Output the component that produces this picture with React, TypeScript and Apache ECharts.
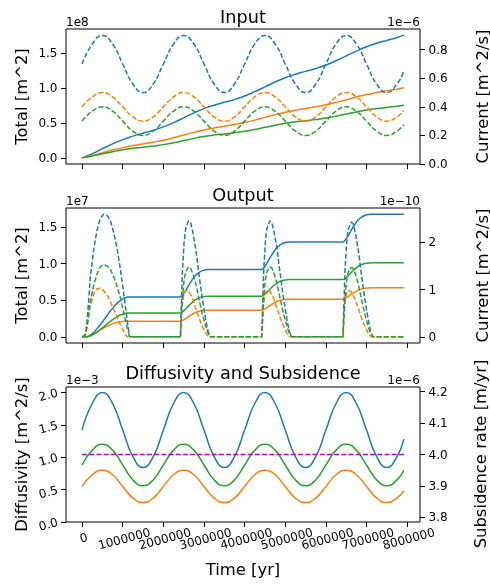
import React, { useEffect, useRef } from 'react';
import * as echarts from 'echarts';

const FONT = '"DejaVu Sans", "Liberation Sans", sans-serif';
const BLUE = '#1f77b4';
const ORANGE = '#ff7f0e';
const GREEN = '#2ca02c';
const PURPLE = '#bf00bf';

// ---------- shared x axis ----------
const xTicks = [0, 1000000, 2000000, 3000000, 4000000, 5000000, 6000000, 7000000, 8000000];
const xLabelsOdd = [1000000, 3000000, 5000000, 7000000];
const xLabelsEven = [2000000, 4000000, 6000000, 8000000];
const xLabelsZero = [0];
const X_MIN = -396000;
const X_MAX = 8316000;

// ---------- Input panel (time in yr) ----------
const tInput = [0, 250000, 500000, 750000, 1000000, 1250000, 1500000, 1750000, 2000000, 2250000, 2500000, 2750000, 3000000, 3250000, 3500000, 3750000, 4000000, 4250000, 4500000, 4750000, 5000000, 5250000, 5500000, 5750000, 6000000, 6250000, 6500000, 6750000, 7000000, 7250000, 7500000, 7750000, 7920000];
// Total [m^2], x1e8
const inTotalBlue = [0, 0.061, 0.131, 0.2, 0.261, 0.31, 0.352, 0.393, 0.442, 0.503, 0.572, 0.642, 0.703, 0.752, 0.793, 0.834, 0.884, 0.945, 1.014, 1.084, 1.145, 1.194, 1.235, 1.276, 1.325, 1.387, 1.456, 1.525, 1.587, 1.636, 1.677, 1.718, 1.752];
const inTotalOrange = [0, 0.035, 0.073, 0.112, 0.146, 0.175, 0.199, 0.224, 0.252, 0.287, 0.326, 0.364, 0.399, 0.427, 0.452, 0.476, 0.505, 0.539, 0.578, 0.617, 0.651, 0.68, 0.704, 0.729, 0.757, 0.792, 0.83, 0.869, 0.904, 0.932, 0.957, 0.981, 1.0];
const inTotalGreen = [0, 0.027, 0.058, 0.088, 0.115, 0.136, 0.152, 0.169, 0.189, 0.216, 0.247, 0.278, 0.304, 0.325, 0.342, 0.358, 0.379, 0.405, 0.436, 0.467, 0.494, 0.514, 0.531, 0.547, 0.568, 0.595, 0.626, 0.656, 0.683, 0.704, 0.72, 0.737, 0.75];
// Current [m^2/s], x1e-6
const inCurBlue = [0.7, 0.84, 0.9, 0.84, 0.7, 0.56, 0.5, 0.56, 0.7, 0.84, 0.9, 0.84, 0.7, 0.56, 0.5, 0.56, 0.7, 0.84, 0.9, 0.84, 0.7, 0.56, 0.5, 0.56, 0.7, 0.84, 0.9, 0.84, 0.7, 0.56, 0.5, 0.56, 0.65];
const inCurOrange = [0.4, 0.47, 0.5, 0.47, 0.4, 0.33, 0.3, 0.33, 0.4, 0.47, 0.5, 0.47, 0.4, 0.33, 0.3, 0.33, 0.4, 0.47, 0.5, 0.47, 0.4, 0.33, 0.3, 0.33, 0.4, 0.47, 0.5, 0.47, 0.4, 0.33, 0.3, 0.33, 0.375];
const inCurGreen = [0.3, 0.37, 0.4, 0.37, 0.3, 0.23, 0.2, 0.23, 0.3, 0.37, 0.4, 0.37, 0.3, 0.23, 0.2, 0.23, 0.3, 0.37, 0.4, 0.37, 0.3, 0.23, 0.2, 0.23, 0.3, 0.37, 0.4, 0.37, 0.3, 0.23, 0.2, 0.23, 0.275];

// ---------- Output panel ----------
const tOutput = [
  0, 80000, 120000, 160000, 200000, 290000, 370000, 450000, 530000, 620000, 700000, 780000, 860000, 940000, 1030000, 1110000, 1170000,
  2420000, 2440000, 2470000, 2510000, 2550000, 2620000, 2670000, 2730000, 2800000, 2880000, 2960000, 3040000, 3100000, 3160000,
  4420000, 4440000, 4470000, 4510000, 4550000, 4620000, 4670000, 4730000, 4800000, 4880000, 4960000, 5040000, 5100000, 5160000,
  6420000, 6440000, 6470000, 6510000, 6550000, 6620000, 6670000, 6730000, 6800000, 6880000, 6960000, 7040000, 7100000, 7160000,
  7920000,
];
// Total [m^2], x1e7
const outTotalBlue = [
  0, 0.0005, 0.003, 0.009, 0.021, 0.062, 0.111, 0.167, 0.227, 0.296, 0.355, 0.409, 0.457, 0.496, 0.527, 0.542, 0.545,
  0.545, 0.55, 0.565, 0.595, 0.63, 0.7, 0.745, 0.795, 0.845, 0.88, 0.903, 0.914, 0.917, 0.918,
  0.918, 0.923, 0.938, 0.969, 1.004, 1.075, 1.12, 1.171, 1.221, 1.257, 1.28, 1.291, 1.294, 1.295,
  1.295, 1.3, 1.315, 1.346, 1.381, 1.452, 1.498, 1.548, 1.599, 1.634, 1.658, 1.669, 1.672, 1.673,
  1.673,
];
const outTotalOrange = [
  0, 0.0005, 0.002, 0.007, 0.014, 0.038, 0.064, 0.091, 0.118, 0.146, 0.167, 0.185, 0.198, 0.207, 0.213, 0.214, 0.214,
  0.214, 0.216, 0.222, 0.234, 0.248, 0.276, 0.294, 0.315, 0.335, 0.349, 0.358, 0.362, 0.364, 0.364,
  0.364, 0.366, 0.372, 0.384, 0.398, 0.426, 0.444, 0.465, 0.485, 0.499, 0.508, 0.512, 0.514, 0.514,
  0.514, 0.516, 0.522, 0.535, 0.549, 0.578, 0.597, 0.617, 0.638, 0.652, 0.662, 0.666, 0.668, 0.668,
  0.668,
];
const outTotalGreen = [
  0, 0.0003, 0.002, 0.005, 0.012, 0.037, 0.066, 0.1, 0.136, 0.177, 0.213, 0.246, 0.274, 0.298, 0.316, 0.325, 0.327,
  0.327, 0.33, 0.339, 0.358, 0.379, 0.422, 0.449, 0.48, 0.51, 0.532, 0.546, 0.552, 0.554, 0.555,
  0.555, 0.558, 0.567, 0.585, 0.607, 0.649, 0.677, 0.707, 0.738, 0.759, 0.773, 0.78, 0.781, 0.782,
  0.782, 0.785, 0.794, 0.812, 0.834, 0.876, 0.904, 0.934, 0.965, 0.986, 1.0, 1.007, 1.008, 1.009,
  1.009,
];
// Current [m^2/s], x1e-10
const outCurBlue = [
  0, 0.05, 0.32, 0.74, 1.24, 1.88, 2.27, 2.52, 2.6, 2.57, 2.45, 2.2, 1.88, 1.45, 0.89, 0.35, 0,
  0, 0.6, 1.4, 2.0, 2.3, 2.46, 2.42, 2.2, 1.85, 1.3, 0.8, 0.38, 0.12, 0,
  0, 0.6, 1.4, 2.0, 2.3, 2.46, 2.42, 2.2, 1.85, 1.3, 0.8, 0.38, 0.12, 0,
  0, 0.6, 1.4, 1.98, 2.28, 2.43, 2.4, 2.18, 1.83, 1.28, 0.79, 0.37, 0.11, 0,
  0,
];
const outCurOrange = [
  0, 0.04, 0.22, 0.45, 0.66, 0.92, 1.02, 1.03, 0.98, 0.88, 0.74, 0.58, 0.42, 0.26, 0.1, 0, 0,
  0, 0.3, 0.7, 0.92, 0.99, 0.97, 0.9, 0.78, 0.6, 0.4, 0.22, 0.08, 0.01, 0,
  0, 0.3, 0.7, 0.92, 0.99, 0.97, 0.9, 0.78, 0.6, 0.4, 0.22, 0.08, 0.01, 0,
  0, 0.3, 0.7, 0.92, 0.98, 0.96, 0.89, 0.77, 0.6, 0.4, 0.22, 0.08, 0.01, 0,
  0,
];
const outCurGreen = [
  0, 0.03, 0.19, 0.44, 0.73, 1.11, 1.34, 1.49, 1.53, 1.5, 1.42, 1.27, 1.08, 0.83, 0.5, 0.19, 0,
  0, 0.36, 0.84, 1.2, 1.38, 1.48, 1.46, 1.33, 1.12, 0.79, 0.48, 0.23, 0.07, 0,
  0, 0.36, 0.84, 1.2, 1.38, 1.48, 1.46, 1.33, 1.12, 0.79, 0.48, 0.23, 0.07, 0,
  0, 0.36, 0.84, 1.19, 1.37, 1.47, 1.45, 1.32, 1.11, 0.78, 0.47, 0.22, 0.07, 0,
  0,
];

// ---------- Diffusivity and Subsidence panel ----------
// Diffusivity [m^2/s], x1e-3 (time = tInput)
const diffBlue = [1.42, 1.83, 2.0, 1.83, 1.42, 1.01, 0.84, 1.01, 1.42, 1.83, 2.0, 1.83, 1.42, 1.01, 0.84, 1.01, 1.42, 1.83, 2.0, 1.83, 1.42, 1.01, 0.84, 1.01, 1.42, 1.83, 2.0, 1.83, 1.42, 1.01, 0.84, 1.01, 1.28];
const diffOrange = [0.55, 0.73, 0.8, 0.73, 0.55, 0.37, 0.3, 0.37, 0.55, 0.73, 0.8, 0.73, 0.55, 0.37, 0.3, 0.37, 0.55, 0.73, 0.8, 0.73, 0.55, 0.37, 0.3, 0.37, 0.55, 0.73, 0.8, 0.73, 0.55, 0.37, 0.3, 0.37, 0.49];
const diffGreen = [0.88, 1.11, 1.2, 1.11, 0.88, 0.65, 0.56, 0.65, 0.88, 1.11, 1.2, 1.11, 0.88, 0.65, 0.56, 0.65, 0.88, 1.11, 1.2, 1.11, 0.88, 0.65, 0.56, 0.65, 0.88, 1.11, 1.2, 1.11, 0.88, 0.65, 0.56, 0.65, 0.8];
// Subsidence rate [m/yr], x1e-6
const tSubs = [0, 7920000];
const subsRate = [4.0, 4.0];

// ---------- tick values ----------
const inLeftTicks = [0, 0.5, 1.0, 1.5];
const inRightTicks = [0, 0.2, 0.4, 0.6, 0.8];
const outLeftTicks = [0, 0.5, 1.0, 1.5];
const outRightTicks = [0, 1, 2];
const diffTicks = [0, 0.5, 1.0, 1.5, 2.0];
const subsTicks = [3.8, 3.9, 4.0, 4.1, 4.2];

const pairs = (t: number[], v: number[]) => t.map((x, i) => [x, v[i]]);

const GRID_LEFT = 66;
const GRID_W = 354;
const GRID_H = 135;
const TOPS = [29, 208, 387];
const TICK_FS = 12;
const LABEL_FS = 16.4;
const TITLE_FS = 17.7;
const LW = 1.5;

export default function App() {
  const ref = useRef<HTMLDivElement>(null);
  useEffect(() => {
    if (!ref.current) return;
    const chart = echarts.init(ref.current, undefined, { renderer: 'svg' });

    const tickStyle = { show: true, inside: false, length: 5, lineStyle: { color: '#000', width: 1 } };
    const labelBase = { color: '#000', fontFamily: FONT, fontSize: TICK_FS, showMinLabel: true, showMaxLabel: true, hideOverlap: false };

    const xAxis = (gridIndex: number) => ({
      type: 'value', gridIndex, min: X_MIN, max: X_MAX, position: 'bottom',
      axisLine: { show: false, onZero: false },
      splitLine: { show: false },
      axisTick: { ...tickStyle, customValues: xTicks },
      axisLabel: { show: false },
    });

    // label-only x axes for the bottom panel (labels split so they never collide)
    const xLabelAxis = (values: number[], margin: number) => ({
      type: 'value', gridIndex: 2, min: X_MIN, max: X_MAX, position: 'bottom', offset: 0,
      axisLine: { show: false, onZero: false }, splitLine: { show: false }, axisTick: { show: false },
      axisLabel: { ...labelBase, customValues: values, rotate: 15, align: 'center', verticalAlign: 'top', margin, formatter: (v: number) => String(Math.round(v)) },
    });

    const yAxis = (gridIndex: number, position: string, min: number, max: number, ticks: number[], digits: number, rotate = 0) => ({
      type: 'value', gridIndex, position, min, max,
      axisLine: { show: false, onZero: false },
      splitLine: { show: false },
      axisTick: { ...tickStyle, customValues: ticks },
      axisLabel: { ...labelBase, customValues: ticks, margin: 8.5, rotate, formatter: (v: number) => v.toFixed(digits) },
    });

    const line = (xi: number, yi: number, t: number[], v: number[], color: string, dashed: boolean, smooth: boolean) => ({
      type: 'line', xAxisIndex: xi, yAxisIndex: yi, data: pairs(t, v),
      showSymbol: false, symbol: 'none', smooth, silent: true,
      lineStyle: { color, width: LW, type: dashed ? [5, 2.2] : 'solid' },
      itemStyle: { color },
    });

    const txt = (text: string, x: number, y: number, size: number, align: string, rot = 0) => ({
      type: 'text', x, y, rotation: rot, silent: true,
      style: { text, fill: '#000', font: `${size}px ${FONT}`, align, verticalAlign: 'middle' },
    });

    const cx = GRID_LEFT + GRID_W / 2;
    const right = GRID_LEFT + GRID_W;

    const option = {
      animation: false,
      grid: TOPS.map((top) => ({
        left: GRID_LEFT, top, width: GRID_W, height: GRID_H,
        show: true, borderColor: '#000', borderWidth: 1, backgroundColor: 'transparent',
      })),
      xAxis: [
        xAxis(0),
        xAxis(1),
        xAxis(2),
        xLabelAxis(xLabelsZero, 10),
        xLabelAxis(xLabelsOdd, 11),
        xLabelAxis(xLabelsEven, 11),
      ],
      yAxis: [
        yAxis(0, 'left', -0.0876, 1.84, inLeftTicks, 1),
        yAxis(0, 'right', 0, 0.945, inRightTicks, 1),
        yAxis(1, 'left', -0.0837, 1.757, outLeftTicks, 1),
        yAxis(1, 'right', -0.13, 2.73, outRightTicks, 0),
        yAxis(2, 'left', 0, 2.085, diffTicks, 1, 15),
        yAxis(2, 'right', 3.785, 4.215, subsTicks, 1),
      ],
      series: [
        line(0, 0, tInput, inTotalBlue, BLUE, false, true),
        line(0, 0, tInput, inTotalOrange, ORANGE, false, true),
        line(0, 0, tInput, inTotalGreen, GREEN, false, true),
        line(0, 1, tInput, inCurBlue, BLUE, true, true),
        line(0, 1, tInput, inCurOrange, ORANGE, true, true),
        line(0, 1, tInput, inCurGreen, GREEN, true, true),

        line(1, 2, tOutput, outTotalBlue, BLUE, false, false),
        line(1, 2, tOutput, outTotalOrange, ORANGE, false, false),
        line(1, 2, tOutput, outTotalGreen, GREEN, false, false),
        line(1, 3, tOutput, outCurBlue, BLUE, true, false),
        line(1, 3, tOutput, outCurOrange, ORANGE, true, false),
        line(1, 3, tOutput, outCurGreen, GREEN, true, false),

        line(2, 4, tInput, diffBlue, BLUE, false, true),
        line(2, 4, tInput, diffOrange, ORANGE, false, true),
        line(2, 4, tInput, diffGreen, GREEN, false, true),
        line(2, 5, tSubs, subsRate, PURPLE, true, false),
      ],
      graphic: [
        txt('Input', cx, 17, TITLE_FS, 'center'),
        txt('Output', cx, 195, TITLE_FS, 'center'),
        txt('Diffusivity and Subsidence', cx, 373, TITLE_FS, 'center'),

        txt('1e8', GRID_LEFT, 22, TICK_FS, 'left'),
        txt('1e\u22126', right, 22, TICK_FS, 'right'),
        txt('1e7', GRID_LEFT, 201, TICK_FS, 'left'),
        txt('1e\u221210', right, 201, TICK_FS, 'right'),
        txt('1e\u22123', GRID_LEFT, 380, TICK_FS, 'left'),
        txt('1e\u22126', right, 380, TICK_FS, 'right'),

        txt('Total [m^2]', 21, TOPS[0] + GRID_H / 2, LABEL_FS, 'center', Math.PI / 2),
        txt('Total [m^2]', 21, TOPS[1] + GRID_H / 2, LABEL_FS, 'center', Math.PI / 2),
        txt('Diffusivity [m^2/s]', 21, TOPS[2] + GRID_H / 2, LABEL_FS, 'center', Math.PI / 2),
        txt('Current [m^2/s]', 482, TOPS[0] + GRID_H / 2, LABEL_FS, 'center', Math.PI / 2),
        txt('Current [m^2/s]', 482, TOPS[1] + GRID_H / 2, LABEL_FS, 'center', Math.PI / 2),
        txt('Subsidence rate [m/yr]', 480, 454, LABEL_FS, 'center', Math.PI / 2),

        txt('Time [yr]', cx, 569, LABEL_FS, 'center'),
      ],
    };

    chart.setOption(option as any);
    return () => chart.dispose();
  }, []);

  return <div ref={ref} style={{ position: 'fixed', left: 0, top: 0, width: 490, height: 588 }} />;
}
